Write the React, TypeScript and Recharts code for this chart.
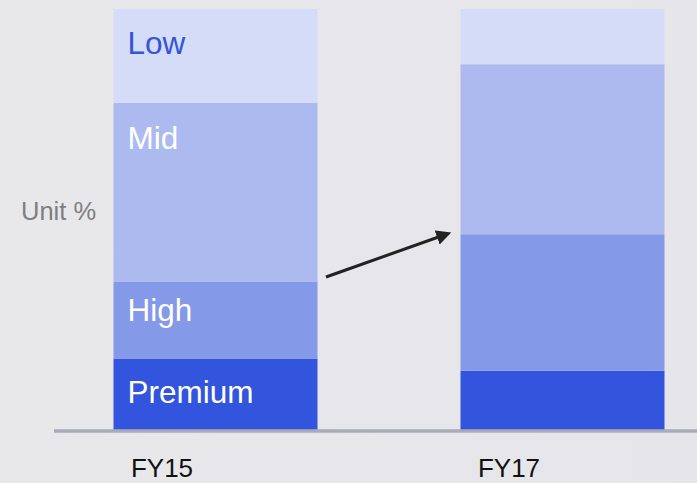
import React from "react";
import { BarChart, Bar, XAxis, YAxis, LabelList } from "recharts";

const YEARS = ["FY15", "FY17"];
const PREMIUM = [17.2, 14.3];
const HIGH = [18.2, 32.3];
const MID = [42.4, 40.3];
const LOW = [22.2, 13.1];

const SEGMENTS = [
  { key: "premium", name: "Premium", color: "#3354dc", text: "#ffffff", dy: 45 },
  { key: "high", name: "High", color: "#8499e8", text: "#ffffff", dy: 39 },
  { key: "mid", name: "Mid", color: "#acbaf0", text: "#ffffff", dy: 46 },
  { key: "low", name: "Low", color: "#d5dcf7", text: "#3354dc", dy: 45 },
];

const data = YEARS.map((year, i) => ({
  year,
  premium: PREMIUM[i],
  high: HIGH[i],
  mid: MID[i],
  low: LOW[i],
}));

const FONT = "'Liberation Sans', Arial, sans-serif";

function YearTick(props: any) {
  const { x, y, payload } = props;
  return (
    <text x={x - 53} y={y + 46} textAnchor="middle" fontSize={26} fill="#111" fontFamily={FONT}>
      {payload.value}
    </text>
  );
}

export default function App() {
  return (
    <div
      style={{
        position: "fixed",
        left: 0,
        top: 0,
        width: 697,
        height: 483,
        overflow: "hidden",
        background: "linear-gradient(90deg, #e8e8eb 0%, #e6e6ea 100%)",
        fontFamily: FONT,
      }}
    >
      <BarChart
        width={697}
        height={483}
        data={data}
        margin={{ top: 9, right: 0, bottom: 0, left: 54 }}
        barSize={204}
      >
        <XAxis
          dataKey="year"
          height={52}
          padding={{ left: -12.5, right: -38.5 }}
          axisLine={{ stroke: "#a9abbb", strokeWidth: 3.5 }}
          tickLine={false}
          tickSize={0}
          tickMargin={0}
          tick={<YearTick />}
          interval={0}
        />
        <YAxis hide domain={[0, 100]} />
        {SEGMENTS.map((s) => (
          <Bar key={s.key} dataKey={s.key} stackId="a" fill={s.color} isAnimationActive={false}>
            <LabelList
              dataKey={s.key}
              content={(p: any) =>
                p.index === 0 ? (
                  <text
                    x={Number(p.x) + 14}
                    y={Number(p.y) + s.dy}
                    fontSize={31.5}
                    fill={s.text}
                    fontFamily={FONT}
                  >
                    {s.name}
                  </text>
                ) : null
              }
            />
          </Bar>
        ))}
      </BarChart>
      <div
        style={{
          position: "absolute",
          left: 21,
          top: 197,
          fontSize: 25.5,
          color: "#7f7f7f",
          whiteSpace: "nowrap",
        }}
      >
        Unit %
      </div>
      <svg
        width={697}
        height={483}
        style={{ position: "absolute", left: 0, top: 0, pointerEvents: "none" }}
      >
        <defs>
          <marker id="ah" markerWidth="5" markerHeight="5" refX="3.5" refY="2.5" orient="auto">
            <path d="M0,0 L5,2.5 L0,5 Z" fill="#222" />
          </marker>
        </defs>
        <line x1={326} y1={277} x2={447} y2={234} stroke="#222" strokeWidth={3} markerEnd="url(#ah)" />
      </svg>
    </div>
  );
}
